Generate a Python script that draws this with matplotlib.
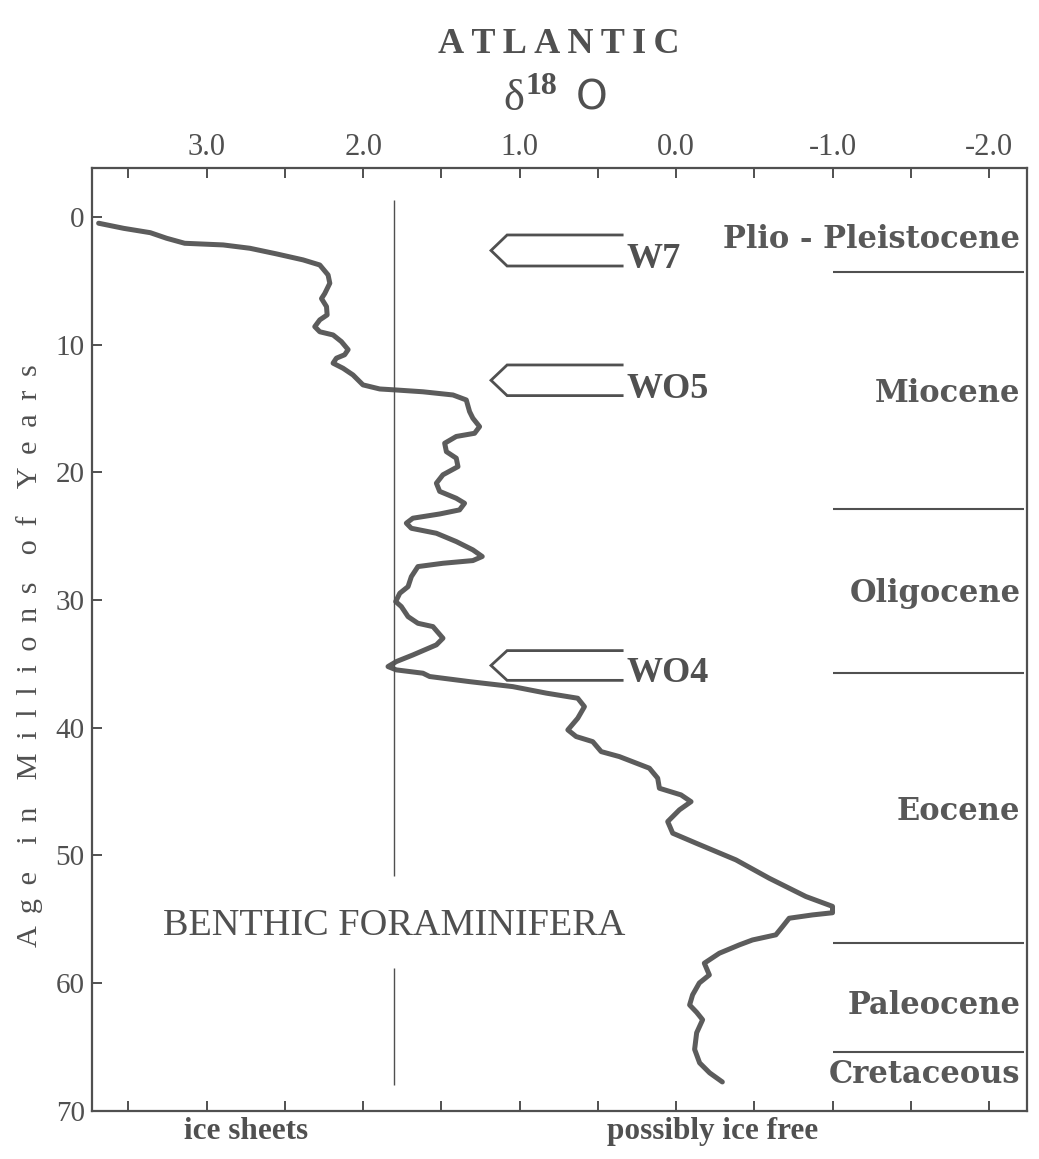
import matplotlib
matplotlib.use("Agg")
import matplotlib.pyplot as plt

# --- data (age in Myr, benthic d18O in per mil) ---
age = [0.5, 0.9, 1.24, 1.68, 2.07, 2.2, 2.46, 2.9, 3.37, 3.77, 4.55, 5.2, 6.0, 6.4,
       7.03, 7.68, 8.07, 8.6, 9.0, 9.25, 9.77, 10.4, 10.8, 11.07, 11.46, 11.86,
       12.38, 13.16, 13.48, 13.56, 13.7, 13.95, 14.34, 15.25, 15.77, 16.43, 16.95,
       17.2, 17.73, 18.39, 18.9, 19.56, 20.2, 20.86, 21.5, 22.04, 22.43, 22.95,
       23.27, 23.6, 23.99, 24.39, 24.78, 25.43, 26.08, 26.6, 26.92, 27.13, 27.39,
       28.18, 28.96, 29.48, 30.13, 30.52, 31.31, 31.83, 32.09, 33.0, 33.52, 34.31,
       34.83, 35.22, 35.48, 35.74, 36.0, 36.4, 36.79, 37.3, 37.7, 38.36, 39.27,
       40.18, 40.7, 41.1, 41.88, 42.27, 43.18, 43.96, 44.75, 45.27, 45.8, 46.44,
       47.36, 48.27, 49.05, 50.36, 51.8, 53.23, 54.0, 54.5, 54.67, 54.93, 55.58,
       56.23, 56.63, 57.02, 57.67, 58.45, 59.37, 60.0, 60.93, 61.72, 62.3, 62.88,
       63.9, 65.2, 66.26, 67.04, 67.75]
d18o = [3.69, 3.53, 3.36, 3.255, 3.14, 2.894, 2.724, 2.554, 2.384, 2.277, 2.224,
        2.213, 2.245, 2.266, 2.234, 2.23, 2.277, 2.309, 2.277, 2.192, 2.139, 2.096,
        2.118, 2.171, 2.192, 2.128, 2.065, 2.001, 1.894, 1.788, 1.618, 1.426, 1.341,
        1.32, 1.299, 1.256, 1.288, 1.405, 1.479, 1.468, 1.405, 1.394, 1.49, 1.532,
        1.511, 1.405, 1.352, 1.384, 1.511, 1.682, 1.724, 1.692, 1.532, 1.405, 1.299,
        1.239, 1.299, 1.49, 1.65, 1.692, 1.713, 1.766, 1.792, 1.756, 1.713, 1.65,
        1.554, 1.49, 1.532, 1.682, 1.788, 1.841, 1.788, 1.618, 1.575, 1.32, 1.044,
        0.83, 0.629, 0.586, 0.629, 0.692, 0.639, 0.533, 0.479, 0.363, 0.171, 0.118,
        0.107, -0.031, -0.095, -0.021, 0.054, 0.022, -0.127, -0.382, -0.595, -0.829,
        -0.999, -0.999, -0.871, -0.722, -0.68, -0.637, -0.488, -0.403, -0.276,
        -0.18, -0.212, -0.148, -0.105, -0.086, -0.131, -0.169, -0.131, -0.118,
        -0.15, -0.214, -0.295]

x_ticks = [3.0, 2.0, 1.0, 0.0, -1.0, -2.0]
x_tick_labels = ["3.0", "2.0", "1.0", "0.0", "-1.0", "-2.0"]
y_ticks = [0, 10, 20, 30, 40, 50, 60, 70]

epoch_names = ["Plio - Pleistocene", "Miocene", "Oligocene", "Eocene",
               "Paleocene", "Cretaceous"]
epoch_label_age = [2.44, 14.5, 30.2, 47.2, 62.4, 67.8]
boundary_age = [4.35, 22.85, 35.7, 56.9, 65.4]

event_names = ["W7", "WO5", "WO4"]
event_top = [1.42, 11.6, 33.97]
event_bottom = [3.85, 14.0, 36.3]

ice_line = 1.8   # vertical reference line

GREY = "#505050"
SERIF = ["Liberation Serif", "DejaVu Serif"]
plt.rcParams["font.family"] = SERIF

fig = plt.figure(figsize=(10.39, 11.59), dpi=100)
ax = fig.add_axes([0.0883, 0.0417, 0.8999, 0.8134])

ax.plot(d18o, age, color="#5c5c5c", lw=3.6, solid_capstyle="round",
        solid_joinstyle="round")

# ice sheet threshold line, broken around the label
ax.vlines(ice_line, -1.3, 51.6, color=GREY, lw=1.0)
ax.vlines(ice_line, 58.8, 68.0, color=GREY, lw=1.0)
ax.text(ice_line, 55.5, "BENTHIC FORAMINIFERA", ha="center", va="center",
        fontsize=27.5, color=GREY)

# epoch boundaries + names
ax.hlines(boundary_age, -1.0, -2.22, color=GREY, lw=1.5)
for name, a in zip(epoch_names, epoch_label_age):
    ax.text(-2.20, a, name, ha="right", va="baseline", fontsize=22,
            fontweight="bold", color="#585858", family="DejaVu Serif")

# W event arrows
for name, t, b in zip(event_names, event_top, event_bottom):
    m = (t + b) / 2
    ax.plot([0.345, 1.08, 1.183, 1.08, 0.345], [t, t, m, b, b],
            color=GREY, lw=2.0, solid_joinstyle="miter")
    ax.text(0.315, b + 0.15, name, ha="left", va="baseline", fontsize=26,
            fontweight="bold", color=GREY)

ax.set_xlim(3.734, -2.24)
ax.set_ylim(70, -3.83)
ax.set_xticks(x_ticks)
ax.set_xticklabels(x_tick_labels)
ax.set_xticks([3.5, 2.5, 1.5, 0.5, -0.5, -1.5], minor=True)
ax.set_yticks(y_ticks)
ax.tick_params(axis="x", which="both", top=True, bottom=True, labeltop=True,
               labelbottom=False, direction="in", length=7.5, width=1.4,
               color=GREY, labelsize=22, labelcolor=GREY, pad=4)
ax.tick_params(axis="y", left=True, right=False, direction="in", length=7.5,
               width=1.4, color=GREY, labelsize=21, labelcolor=GREY, pad=5)
for s in ax.spines.values():
    s.set_linewidth(1.6)
    s.set_color(GREY)

# bottom annotations
ax.text(2.75, 71.6, "ice sheets", ha="center", va="center", fontsize=22.5,
        fontweight="bold", color=GREY, clip_on=False)
ax.text(-0.23, 71.6, "possibly ice free", ha="center", va="center",
        fontsize=22.5, fontweight="bold", color=GREY, clip_on=False)

# y label with wide letter spacing
gap = " \u2009"
ylabel = (gap * 2).join(gap.join(w) for w in "Age in Millions of Years".split())
fig.text(0.028, 0.434, ylabel, rotation=90, ha="center", va="center",
         fontsize=21.8, color=GREY)

# title block
fig.text(0.538, 1 - 53 / 1159, "\u2009".join("ATLANTIC"), ha="center",
         va="baseline", fontsize=26, fontweight="bold", color=GREY)
fig.text(514 / 1039, 1 - 110 / 1159, "\u03b4", ha="center", va="baseline",
         fontsize=32, color=GREY)
fig.text(526 / 1039, 1 - 94 / 1159, "18", ha="left", va="baseline",
         fontsize=23, fontweight="bold", color=GREY)
fig.text(576 / 1039, 1 - 110 / 1159, "O", ha="left", va="baseline",
         fontsize=29, color=GREY, family="DejaVu Sans")

fig.savefig("out.png", dpi=100)
